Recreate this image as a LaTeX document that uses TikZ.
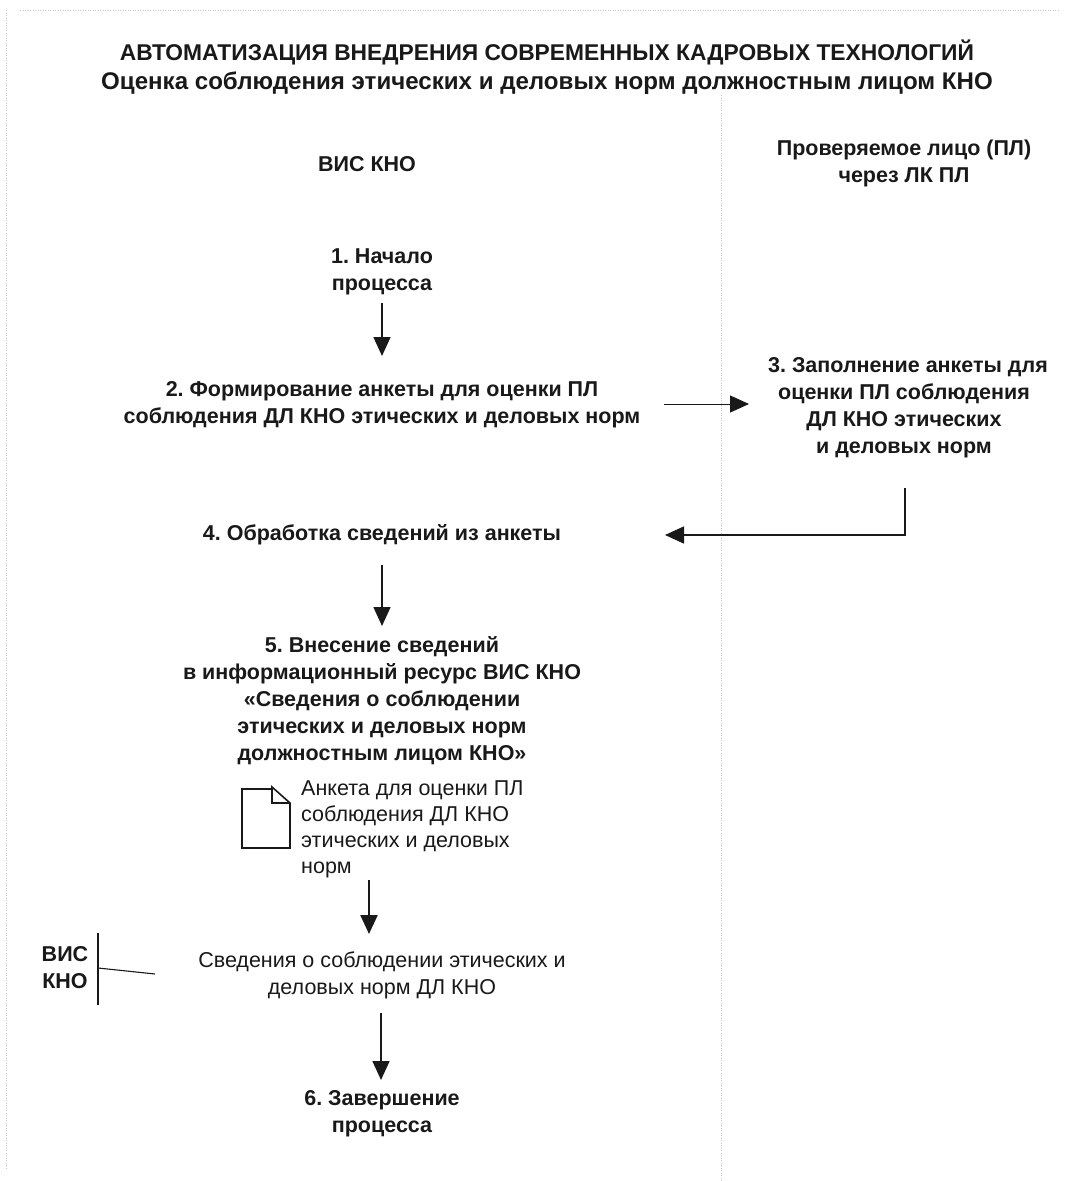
\documentclass[tikz,border=0pt]{standalone}
\usepackage{fontspec}
\setmainfont{Liberation Sans}
\usetikzlibrary{arrows.meta}
\frenchspacing
\tikzset{
 headA/.style={font=\bfseries\fontsize{22.8}{30}\selectfont,align=center,inner sep=0pt,text=black!90},
 headB/.style={font=\bfseries\fontsize{24.1}{30}\selectfont,align=center,inner sep=0pt,text=black!90},
 lab/.style={font=\bfseries\fontsize{21.5}{27}\selectfont,align=center,inner sep=0pt,text=black!90},
 plain/.style={font=\fontsize{21.5}{27}\selectfont,inner sep=0pt,text=black!90},
 arr/.style={-{Triangle[length=19pt,width=17pt]},line width=1.6pt,black!90},
 thinarr/.style={-{Triangle[length=19pt,width=17pt]},line width=1pt,black!90},
 sep/.style={black!22,line width=.6pt,dash pattern=on 1pt off 1.5pt},
}
\begin{document}
\begin{tikzpicture}[x=1pt,y=-1pt]
\useasboundingbox (0,0) rectangle (1077,1181);
\fill[white] (0,0) rectangle (1077,1181);
\draw[sep] (6,10) -- (6,1170);
\draw[sep] (20,10) -- (1060,10);
\coordinate (sepTop) at (721,95);
\coordinate (sepBot) at (721,1181);
\draw[sep] (sepTop) -- (sepBot);
\node[headA] (title) at (547,52) {АВТОМАТИЗАЦИЯ ВНЕДРЕНИЯ СОВРЕМЕННЫХ КАДРОВЫХ ТЕХНОЛОГИЙ};
\node[headB] (subtitle) at (547,83) {Оценка соблюдения этических и деловых норм должностным лицом КНО};
\node[lab] (colA) at (367,164) {ВИС КНО};
\node[lab] (colB) at (904,163) {Проверяемое лицо (ПЛ)\\через ЛК ПЛ};
\node[lab] (n1) at (382,272) {1. Начало\\процесса};
\node[lab] (n2) at (382,405) {2. Формирование анкеты для оценки ПЛ\\соблюдения ДЛ КНО этических и деловых норм};
\node[lab] (n3) at (908,408) {3. Заполнение анкеты для\\\hspace*{-8pt}оценки ПЛ соблюдения\\\hspace*{-8pt}ДЛ КНО этических\\\hspace*{-8pt}и деловых норм};
\node[lab] (n4) at (382,535) {4. Обработка сведений из анкеты};
\node[lab] (n5) at (382,701) {5. Внесение сведений\\в информационный ресурс ВИС КНО\\«Сведения о соблюдении\\этических и деловых норм\\должностным лицом КНО»};
\node[plain,align=left,anchor=west,font=\fontsize{21.5}{26}\selectfont] (doc) at (301,829) {Анкета для оценки ПЛ\\соблюдения ДЛ КНО\\этических и деловых\\норм};
\node[plain,align=center] (info) at (382,975) {Сведения о соблюдении этических и\\деловых норм ДЛ КНО};
\node[lab] (n6) at (382,1114) {6. Завершение\\процесса};
\node[lab] (vis) at (65,968) {ВИС\\КНО};
\coordinate (a1s) at (382,303);
\coordinate (a1e) at (382,356);
\draw[arr] (a1s) -- (a1e);
\coordinate (a2s) at (664,404);
\coordinate (a2e) at (749,404);
\draw[thinarr] (a2s) -- (a2e);
\coordinate (a3s) at (905,488);
\coordinate (a3m) at (905,535);
\coordinate (a3e) at (665,535);
\draw[arr] (a3s) -- (a3m) -- (a3e);
\coordinate (a4s) at (382,565);
\coordinate (a4e) at (382,626);
\draw[arr] (a4s) -- (a4e);
\coordinate (a5s) at (369,880);
\coordinate (a5e) at (369,934);
\draw[arr,line width=2.4pt] (a5s) -- (a5e);
\coordinate (a6s) at (381,1013);
\coordinate (a6e) at (381,1080);
\draw[arr] (a6s) -- (a6e);
\coordinate (b1) at (98,933);
\coordinate (b2) at (98,1005);
\coordinate (b3) at (98,968);
\coordinate (b4) at (155,974);
\draw[line width=1.6pt,black!90] (b1) -- (b2);
\draw[line width=1.1pt,black!90] (b3) -- (b4);
\draw[line width=1.6pt,black!90] (272,789) -- (242,789) -- (242,848) -- (290,848) -- (290,803) -- (272,787) -- cycle;
\draw[line width=1.4pt,black!90] (272,789) -- (272,803) -- (290,803);
\end{tikzpicture}
\end{document}
